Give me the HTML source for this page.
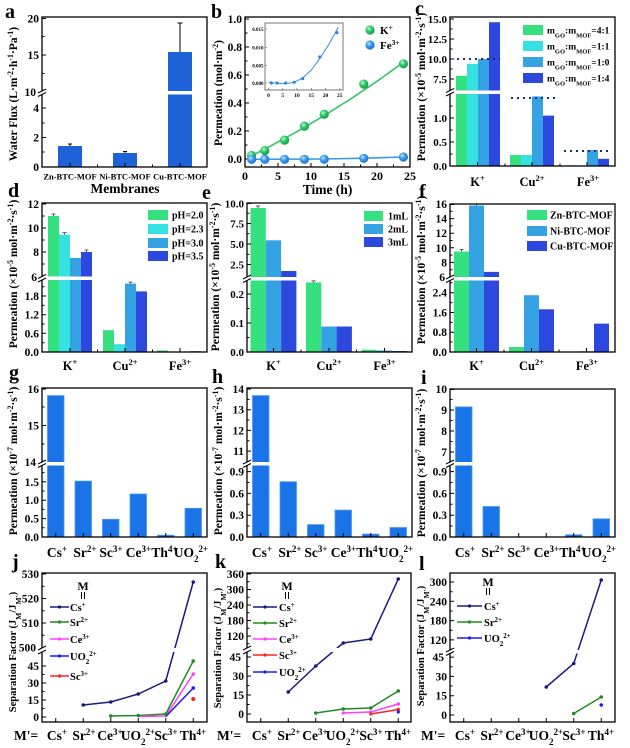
<!DOCTYPE html>
<html><head><meta charset="utf-8"><style>
html,body{margin:0;padding:0;background:#fff;}
svg{display:block;}
text{font-family:"Liberation Serif",serif;font-weight:bold;fill:#000;}
.fr{fill:none;stroke:#000;stroke-width:1.3;}
.tk{stroke:#000;stroke-width:1;fill:none;}
.yl{font-size:11.5px;text-anchor:end;}
.xl{font-size:12.5px;text-anchor:middle;}
.xc{font-size:13.5px;text-anchor:middle;}
.pl{font-size:20px;}
.lg{font-size:10px;}
.ax{font-size:11px;text-anchor:middle;}
</style></head><body>
<svg width="630" height="748" viewBox="0 0 630 748" xmlns="http://www.w3.org/2000/svg">
<defs>
<radialGradient id="gg" cx="0.38" cy="0.35" r="0.65"><stop offset="0" stop-color="#c4f7d6"/><stop offset="0.45" stop-color="#30cf6b"/><stop offset="1" stop-color="#1a9a48"/></radialGradient>
<radialGradient id="gb" cx="0.38" cy="0.35" r="0.65"><stop offset="0" stop-color="#c8e6ff"/><stop offset="0.45" stop-color="#3d9ef0"/><stop offset="1" stop-color="#1d72cc"/></radialGradient>
</defs>

<!-- ================= a ================= -->
<text class="pl" x="5" y="18">a</text>
<g fill="#1e62d8">
<rect x="58" y="146" width="24" height="21"/>
<rect x="113" y="153" width="24" height="14"/>
<rect x="168" y="52" width="24" height="115"/>
</g>
<path class="tk" d="M70 146V144M68 144H72M125 153V151.5M123 151.5H127M180 52V23M177.5 23H182.5" stroke="#1e62d8"/>
<rect class="fr" x="42" y="17" width="165" height="150"/>
<rect x="41" y="91" width="165" height="3.5" fill="#fff"/>
<path class="tk" d="M38 93L46 89M38 96.5L46 92.5"/>
<path class="tk" d="M42 18.5h4M42 55h4M42 36.5h2.5M42 73.5h2.5M42 108h4M42 137.5h4M42 123h2.5M42 152h2.5M70 167v-4M125 167v-4M180 167v-4M97.5 167v-2.5M152.5 167v-2.5"/>
<text class="yl" x="39" y="22.5">20</text>
<text class="yl" x="39" y="59">15</text>
<text class="yl" x="36" y="96">10</text>
<text class="yl" x="39" y="112">4</text>
<text class="yl" x="39" y="141.5">2</text>
<text class="yl" x="39" y="171">0</text>
<g font-size="8.5" text-anchor="middle">
<text x="70" y="179.5">Zn-BTC-MOF</text>
<text x="125" y="179.5">Ni-BTC-MOF</text>
<text x="180" y="179.5">Cu-BTC-MOF</text>
</g>
<text x="125" y="193" font-size="13.5" text-anchor="middle">Membranes</text>
<text transform="translate(17,94) rotate(-90)" font-size="11.5" text-anchor="middle">Water Flux (L·m<tspan font-size="8" baseline-shift="super">-2</tspan>·h<tspan font-size="8" baseline-shift="super">-1</tspan>·Pa<tspan font-size="8" baseline-shift="super">-1</tspan>)</text>

<!-- ================= b ================= -->
<text class="pl" x="211" y="18">b</text>
<rect class="fr" x="245" y="17" width="165" height="150"/>
<path class="tk" d="M245 19h4M245 47h4M245 75h4M245 103h4M245 131h4M245 159h4M245 33h2.5M245 61h2.5M245 89h2.5M245 117h2.5M245 145h2.5M278 167v-4M311 167v-4M344 167v-4M377 167v-4M261.5 167v-2.5M294.5 167v-2.5M327.5 167v-2.5M360.5 167v-2.5M393.5 167v-2.5"/>
<text class="yl" x="242" y="23">1.0</text>
<text class="yl" x="242" y="51">0.8</text>
<text class="yl" x="242" y="79">0.6</text>
<text class="yl" x="242" y="107">0.4</text>
<text class="yl" x="242" y="135">0.2</text>
<text class="yl" x="242" y="163">0.0</text>
<g font-size="12" text-anchor="middle">
<text x="245" y="180">0</text><text x="278" y="180">5</text><text x="311" y="180">10</text><text x="344" y="180">15</text><text x="377" y="180">20</text><text x="410" y="180">25</text>
</g>
<text x="327.5" y="194" font-size="13.5" text-anchor="middle">Time (h)</text>
<text transform="translate(222,93) rotate(-90)" font-size="11.5" text-anchor="middle">Permeation (mol·m<tspan font-size="8" baseline-shift="super">-2</tspan>)</text>
<polyline points="251.6,155.8 271.4,145.6 297.8,131.2 324.2,115.6 350.6,99 377,81.3 403.4,62.4" fill="none" stroke="#2fc46a" stroke-width="1.6"/>
<polyline points="251.6,159.3 324,159 364,158.2 403.4,157" fill="none" stroke="#3a9ae8" stroke-width="1.6"/>
<g fill="url(#gg)">
<circle cx="251.6" cy="155.5" r="4.6"/><circle cx="264.8" cy="150.6" r="4.6"/><circle cx="284.6" cy="140.1" r="4.6"/><circle cx="304.4" cy="126.1" r="4.6"/><circle cx="324.2" cy="114.2" r="4.6"/><circle cx="363.8" cy="84.1" r="4.6"/><circle cx="403.4" cy="63.8" r="4.6"/>
</g>
<g fill="url(#gb)">
<circle cx="251.6" cy="159.3" r="4.6"/><circle cx="264.8" cy="159.3" r="4.6"/><circle cx="284.6" cy="159.3" r="4.6"/><circle cx="304.4" cy="159.3" r="4.6"/><circle cx="324.2" cy="159.3" r="4.6"/><circle cx="363.8" cy="158.3" r="4.6"/><circle cx="403.4" cy="157" r="4.6"/>
</g>
<!-- inset -->
<rect x="265" y="23" width="78" height="67" fill="#fff" stroke="#555" stroke-width="0.8"/>
<path d="M265 29h2M265 47.5h2M265 65.5h2M265 83h2M268.5 90v-2M282.8 90v-2M297 90v-2M311.3 90v-2M325.5 90v-2M339.8 90v-2" stroke="#555" stroke-width="0.6"/>
<g font-size="5" text-anchor="end">
<text x="263.5" y="31">0.015</text><text x="263.5" y="49.5">0.010</text><text x="263.5" y="67.5">0.005</text><text x="263.5" y="85">0.000</text>
</g>
<g font-size="5.5" text-anchor="middle" font-weight="normal">
<text x="268.5" y="97">0</text><text x="282.8" y="97">5</text><text x="297" y="97">10</text><text x="311.3" y="97">15</text><text x="325.5" y="97">20</text><text x="339.8" y="97">25</text>
</g>
<polyline points="268.5,82.3 277,83.4 285.6,83.7 294.2,82.3 302.7,78 311.3,70 319.8,58.5 328.4,45.2 336.9,29.7 338.3,27.2" fill="none" stroke="#3a8ee0" stroke-width="1"/>
<g fill="#2f86dc">
<circle cx="271.4" cy="83" r="1.6"/><circle cx="277" cy="83" r="1.6"/><circle cx="285.6" cy="83" r="1.6"/><circle cx="294.2" cy="82.3" r="1.6"/><circle cx="302.7" cy="78.6" r="1.6"/><circle cx="319.8" cy="57" r="1.6"/><circle cx="336.9" cy="32.6" r="1.6"/>
</g>
<circle cx="370" cy="30" r="4.6" fill="url(#gg)"/>
<text x="380" y="34" font-size="11">K<tspan font-size="7.5" baseline-shift="super">+</tspan></text>
<circle cx="370" cy="45" r="4.6" fill="url(#gb)"/>
<text x="380" y="49" font-size="11">Fe<tspan font-size="7.5" baseline-shift="super">3+</tspan></text>

<!-- ================= c ================= -->
<text class="pl" x="415" y="15">c</text>
<rect x="456" y="75.8" width="11" height="90.2" fill="#35e07e"/>
<rect x="467" y="63.8" width="11" height="102.2" fill="#35e2e2"/>
<rect x="478" y="59" width="11" height="107" fill="#35a2e4"/>
<rect x="489" y="22.2" width="11" height="143.8" fill="#2c48de"/>
<rect x="510" y="155" width="11" height="11" fill="#35e07e"/>
<rect x="521" y="155" width="11" height="11" fill="#35e2e2"/>
<rect x="532" y="96.4" width="11" height="69.6" fill="#35a2e4"/>
<rect x="543" y="115.6" width="11" height="50.4" fill="#2c48de"/>
<rect x="565" y="165.3" width="11" height="0.7" fill="#35e07e"/>
<rect x="587" y="150" width="11" height="16" fill="#35a2e4"/>
<rect x="598" y="158.8" width="11" height="7.2" fill="#2c48de"/>
<rect class="fr" x="450" y="17" width="165" height="149"/>
<rect x="449" y="90.5" width="165" height="3.5" fill="#fff"/>
<path class="tk" d="M446 92.5L454 88.5M446 96L454 92"/>
<path d="M457 59H500M511 98H557M564 151H610" stroke="#1a2a7a" stroke-width="2" stroke-dasharray="2 4"/>
<path class="tk" d="M450 19h4M450 39h4M450 59h4M450 79h4M450 29h2.5M450 49h2.5M450 69h2.5M450 118h4M450 142h4M450 106h2.5M450 130h2.5M450 154h2.5M477.5 166v-4M532 166v-4M587 166v-4M505 166v-2.5M560 166v-2.5"/>
<g font-size="11" text-anchor="end">
<text x="447" y="23">15.0</text><text x="447" y="43">12.5</text><text x="447" y="63">10.0</text><text x="447" y="83">7.5</text>
<text x="447" y="122">1.0</text><text x="447" y="146">0.5</text><text x="447" y="170">0.0</text>
</g>
<g font-size="9.5">
<rect x="523" y="25" width="20" height="10" fill="#35e07e"/>
<rect x="523" y="41" width="20" height="10" fill="#35e2e2"/>
<rect x="523" y="57" width="20" height="10" fill="#35a2e4"/>
<rect x="523" y="73" width="20" height="10" fill="#2c48de"/>
<text x="547" y="33.5">m<tspan font-size="6.5" baseline-shift="sub">GO</tspan>:m<tspan font-size="6.5" baseline-shift="sub">MOF</tspan>=4:1</text>
<text x="547" y="49.5">m<tspan font-size="6.5" baseline-shift="sub">GO</tspan>:m<tspan font-size="6.5" baseline-shift="sub">MOF</tspan>=1:1</text>
<text x="547" y="65.5">m<tspan font-size="6.5" baseline-shift="sub">GO</tspan>:m<tspan font-size="6.5" baseline-shift="sub">MOF</tspan>=1:0</text>
<text x="547" y="81.5">m<tspan font-size="6.5" baseline-shift="sub">GO</tspan>:m<tspan font-size="6.5" baseline-shift="sub">MOF</tspan>=1:4</text>
</g>
<text class="xl" x="477.5" y="186">K<tspan font-size="8.5" baseline-shift="super">+</tspan></text>
<text class="xl" x="532" y="186">Cu<tspan font-size="8.5" baseline-shift="super">2+</tspan></text>
<text class="xl" x="588" y="186">Fe<tspan font-size="8.5" baseline-shift="super">3+</tspan></text>
<text transform="translate(425,87) rotate(-90)" font-size="11.5" text-anchor="middle">Permeation (×10<tspan font-size="8" baseline-shift="super">-5</tspan> mol·m<tspan font-size="8" baseline-shift="super">-2</tspan>·s<tspan font-size="8" baseline-shift="super">-1</tspan>)</text>

<!-- ================= d ================= -->
<text class="pl" x="8" y="197">d</text>
<rect x="48" y="216" width="11" height="136" fill="#35e07e"/>
<rect x="59" y="234.6" width="11" height="117.4" fill="#35e2e2"/>
<rect x="70" y="258" width="11" height="94" fill="#35a2e4"/>
<rect x="81" y="252" width="11" height="100" fill="#2c48de"/>
<rect x="103" y="330.2" width="11" height="21.8" fill="#35e07e"/>
<rect x="114" y="344.2" width="11" height="7.8" fill="#35e2e2"/>
<rect x="125" y="283.6" width="11" height="68.4" fill="#35a2e4"/>
<rect x="136" y="291.4" width="11" height="60.6" fill="#2c48de"/>
<rect x="157" y="350.4" width="11" height="1.6" fill="#35e07e"/>
<rect x="190" y="351.2" width="11" height="0.8" fill="#2c48de"/>
<path d="M53.5 216v-2M51.5 214h4M64.5 234.6v-2M62.5 232.6h4M86.5 252v-2M84.5 250h4M130.5 283.6v-1.5M128.5 282.1h4" stroke="#333" stroke-width="0.8"/>
<rect class="fr" x="42" y="203" width="165" height="149"/>
<rect x="41" y="276.5" width="165" height="3.5" fill="#fff"/>
<path class="tk" d="M38 278.5L46 274.5M38 282L46 278"/>
<path class="tk" d="M42 204h4M42 228h4M42 252h4M42 216h2.5M42 240h2.5M42 264h2.5M42 296h4M42 314.7h4M42 333.3h4M42 286.7h2.5M42 305.4h2.5M42 324h2.5M42 342.7h2.5M70 352v-4M125 352v-4M180 352v-4M97.5 352v-2.5M152.5 352v-2.5"/>
<text class="yl" x="39" y="208">12</text>
<text class="yl" x="39" y="232">10</text>
<text class="yl" x="39" y="256">8</text>
<text class="yl" x="37" y="281">6</text>
<text class="yl" x="39" y="300">1.8</text>
<text class="yl" x="39" y="318.7">1.2</text>
<text class="yl" x="39" y="337.3">0.6</text>
<text class="yl" x="39" y="356">0.0</text>
<g class="lg">
<rect x="148" y="210" width="20" height="10" fill="#35e07e"/>
<rect x="148" y="224" width="20" height="10" fill="#35e2e2"/>
<rect x="148" y="238" width="20" height="10" fill="#35a2e4"/>
<rect x="148" y="251" width="20" height="10" fill="#2c48de"/>
<text x="172" y="218.5">pH=2.0</text>
<text x="172" y="232.5">pH=2.3</text>
<text x="172" y="246.5">pH=3.0</text>
<text x="172" y="259.5">pH=3.5</text>
</g>
<text class="xl" x="70" y="370">K<tspan font-size="8.5" baseline-shift="super">+</tspan></text>
<text class="xl" x="125" y="370">Cu<tspan font-size="8.5" baseline-shift="super">2+</tspan></text>
<text class="xl" x="180" y="370">Fe<tspan font-size="8.5" baseline-shift="super">3+</tspan></text>
<text transform="translate(17,274) rotate(-90)" font-size="11.5" text-anchor="middle">Permeation (×10<tspan font-size="8" baseline-shift="super">-5</tspan> mol·m<tspan font-size="8" baseline-shift="super">-2</tspan>·s<tspan font-size="8" baseline-shift="super">-1</tspan>)</text>

<!-- ================= e ================= -->
<text class="pl" x="202" y="199">e</text>
<rect x="250.5" y="208" width="15.3" height="144" fill="#35e07e"/>
<rect x="265.8" y="240.3" width="15.3" height="111.7" fill="#35a2e4"/>
<rect x="281.1" y="271" width="15.3" height="81" fill="#2c48de"/>
<rect x="306" y="282.4" width="15.3" height="69.6" fill="#35e07e"/>
<rect x="321.3" y="326.5" width="15.3" height="25.5" fill="#35a2e4"/>
<rect x="336.6" y="326.5" width="15.3" height="25.5" fill="#2c48de"/>
<rect x="361.5" y="349.7" width="15.3" height="2.3" fill="#35e07e"/>
<rect x="376.8" y="350.5" width="15.3" height="1.5" fill="#35a2e4"/>
<rect x="392.1" y="351" width="15.3" height="1" fill="#2c48de"/>
<path d="M258 208v-2M256 206h4M313.6 282.4v-1.5M311.6 280.9h4" stroke="#333" stroke-width="0.8"/>
<rect class="fr" x="247" y="203" width="165" height="149"/>
<rect x="246" y="277" width="165" height="3.5" fill="#fff"/>
<path class="tk" d="M243 279L251 275M243 282.5L251 278.5"/>
<path class="tk" d="M247 203.5h4M247 223.5h4M247 244h4M247 264.5h4M247 213.3h2.5M247 233.8h2.5M247 254.3h2.5M247 294h4M247 323h4M247 308.5h2.5M247 337.5h2.5M273.5 352v-4M329 352v-4M384.5 352v-4M301 352v-2.5M356.5 352v-2.5"/>
<g font-size="11" text-anchor="end">
<text x="244" y="207.5">10.0</text>
<text x="244" y="227.5">7.5</text>
<text x="244" y="248">5.0</text>
<text x="244" y="268.5">2.5</text>
<text x="244" y="298">0.2</text>
<text x="244" y="327">0.1</text>
<text x="244" y="356">0.0</text>
</g>
<g class="lg">
<rect x="364" y="211" width="19" height="10" fill="#35e07e"/>
<rect x="364" y="224" width="19" height="10" fill="#35a2e4"/>
<rect x="364" y="237" width="19" height="10" fill="#2c48de"/>
<text x="388" y="219.5">1mL</text>
<text x="388" y="232.5">2mL</text>
<text x="388" y="245.5">3mL</text>
</g>
<text class="xl" x="273.5" y="370">K<tspan font-size="8.5" baseline-shift="super">+</tspan></text>
<text class="xl" x="329" y="370">Cu<tspan font-size="8.5" baseline-shift="super">2+</tspan></text>
<text class="xl" x="384.5" y="370">Fe<tspan font-size="8.5" baseline-shift="super">3+</tspan></text>
<text transform="translate(219,277) rotate(-90)" font-size="11.5" text-anchor="middle">Permeation (×10<tspan font-size="8" baseline-shift="super">-5</tspan> mol·m<tspan font-size="8" baseline-shift="super">-2</tspan>·s<tspan font-size="8" baseline-shift="super">-1</tspan>)</text>

<!-- ================= f ================= -->
<text class="pl" x="419" y="198">f</text>
<rect x="454" y="251.5" width="15" height="100.5" fill="#35e07e"/>
<rect x="469" y="205.5" width="15" height="146.5" fill="#35a2e4"/>
<rect x="484" y="271.9" width="15" height="80.1" fill="#2c48de"/>
<rect x="509" y="347" width="15" height="5" fill="#35e07e"/>
<rect x="524" y="295.2" width="15" height="56.8" fill="#35a2e4"/>
<rect x="539" y="309.3" width="15" height="42.7" fill="#2c48de"/>
<rect x="579" y="351.3" width="15" height="0.7" fill="#35a2e4"/>
<rect x="594" y="323.6" width="15" height="28.4" fill="#2c48de"/>
<path d="M461.5 251.5v-2M459.5 249.5h4M476.5 205.5v-1.5M474.5 204h4" stroke="#333" stroke-width="0.8"/>
<rect class="fr" x="450" y="204" width="165" height="148"/>
<rect x="449" y="277" width="165" height="3.5" fill="#fff"/>
<path class="tk" d="M446 279L454 275M446 282.5L454 278.5"/>
<path class="tk" d="M450 204.5h4M450 218.6h4M450 233.2h4M450 247.8h4M450 262.4h4M450 211.3h2.5M450 225.9h2.5M450 240.5h2.5M450 255.1h2.5M450 269.7h2.5M450 292.7h4M450 312.5h4M450 332.2h4M450 282.8h2.5M450 302.6h2.5M450 322.4h2.5M450 342h2.5M476.5 352v-4M531.5 352v-4M586.5 352v-4M504 352v-2.5M559 352v-2.5"/>
<text class="yl" x="447" y="208">16</text>
<text class="yl" x="447" y="222.6">14</text>
<text class="yl" x="447" y="237.2">12</text>
<text class="yl" x="447" y="251.8">10</text>
<text class="yl" x="447" y="266.4">8</text>
<text class="yl" x="445" y="281">6</text>
<text class="yl" x="447" y="296.7">2.4</text>
<text class="yl" x="447" y="316.5">1.6</text>
<text class="yl" x="447" y="336.2">0.8</text>
<text class="yl" x="447" y="356">0.0</text>
<g class="lg">
<rect x="527" y="210" width="20" height="10" fill="#35e07e"/>
<rect x="527" y="226" width="20" height="10" fill="#35a2e4"/>
<rect x="527" y="241" width="20" height="10" fill="#2c48de"/>
<text x="550" y="218.5">Zn-BTC-MOF</text>
<text x="550" y="234.5">Ni-BTC-MOF</text>
<text x="550" y="249.5">Cu-BTC-MOF</text>
</g>
<text class="xl" x="476.5" y="370">K<tspan font-size="8.5" baseline-shift="super">+</tspan></text>
<text class="xl" x="531.5" y="370">Cu<tspan font-size="8.5" baseline-shift="super">2+</tspan></text>
<text class="xl" x="587" y="370">Fe<tspan font-size="8.5" baseline-shift="super">3+</tspan></text>
<text transform="translate(425,270) rotate(-90)" font-size="11.5" text-anchor="middle">Permeation (×10<tspan font-size="8" baseline-shift="super">-5</tspan> mol·m<tspan font-size="8" baseline-shift="super">-2</tspan>·s<tspan font-size="8" baseline-shift="super">-1</tspan>)</text>

<!-- ================= g ================= -->
<text class="pl" x="9" y="379">g</text>
<g fill="#1a74e8" stroke="#4c98f2" stroke-width="0.8">
<rect x="47.5" y="395.6" width="16.5" height="141.4"/>
<rect x="75" y="481.1" width="16.5" height="55.9"/>
<rect x="102.5" y="519.3" width="16.5" height="17.7"/>
<rect x="130" y="494" width="16.5" height="43"/>
<rect x="157.5" y="535.2" width="16.5" height="1.8"/>
<rect x="185" y="508.3" width="16.5" height="28.7"/>
</g>
<rect class="fr" x="42" y="388" width="165" height="149"/>
<rect x="41" y="462" width="165" height="3.5" fill="#fff"/>
<path class="tk" d="M38 464L46 460M38 467.5L46 463.5"/>
<path class="tk" d="M42 389h4M42 425.5h4M42 407h2.5M42 444h2.5M42 481.8h4M42 500.2h4M42 518.6h4M42 472.6h2.5M42 491h2.5M42 509.4h2.5M42 527.8h2.5M55.75 537v-4M83.25 537v-4M110.75 537v-4M138.25 537v-4M165.75 537v-4M193.25 537v-4"/>
<text class="yl" x="39" y="393">16</text>
<text class="yl" x="39" y="429.5">15</text>
<text class="yl" x="36" y="466">14</text>
<text class="yl" x="39" y="485.8">1.5</text>
<text class="yl" x="39" y="504.2">1.0</text>
<text class="yl" x="39" y="522.6">0.5</text>
<text class="yl" x="39" y="541">0.0</text>
<text class="xc" x="57" y="557">Cs<tspan font-size="9" baseline-shift="super">+</tspan></text>
<text class="xc" x="85" y="557">Sr<tspan font-size="9" baseline-shift="super">2+</tspan></text>
<text class="xc" x="111" y="557">Sc<tspan font-size="9" baseline-shift="super">3+</tspan></text>
<text class="xc" x="138.5" y="557">Ce<tspan font-size="9" baseline-shift="super">3+</tspan></text>
<text class="xc" x="164.5" y="557">Th<tspan font-size="9" baseline-shift="super">4+</tspan></text>
<text class="xc" x="191" y="557">UO<tspan font-size="9" baseline-shift="sub">2</tspan><tspan font-size="9" baseline-shift="super">2+</tspan></text>
<text transform="translate(17,461) rotate(-90)" font-size="11.5" text-anchor="middle">Permeation (×10<tspan font-size="8" baseline-shift="super">-7</tspan> mol·m<tspan font-size="8" baseline-shift="super">-2</tspan>·s<tspan font-size="8" baseline-shift="super">-1</tspan>)</text>

<!-- ================= h ================= -->
<text class="pl" x="212" y="383">h</text>
<g fill="#1a74e8" stroke="#4c98f2" stroke-width="0.8">
<rect x="252.5" y="395.6" width="16.5" height="141.4"/>
<rect x="280" y="481.7" width="16.5" height="55.3"/>
<rect x="307.5" y="524.6" width="16.5" height="12.4"/>
<rect x="335" y="510.1" width="16.5" height="26.9"/>
<rect x="362.5" y="534.1" width="16.5" height="2.9"/>
<rect x="390" y="527.5" width="16.5" height="9.5"/>
</g>
<rect class="fr" x="247" y="388" width="165" height="149"/>
<rect x="246" y="462" width="165" height="3.5" fill="#fff"/>
<path class="tk" d="M243 464L251 460M243 467.5L251 463.5"/>
<path class="tk" d="M247 389h4M247 409.7h4M247 430.4h4M247 451.1h4M247 399.4h2.5M247 420h2.5M247 440.7h2.5M247 471.6h4M247 493.4h4M247 515.2h4M247 482.5h2.5M247 504.3h2.5M247 526h2.5M260.75 537v-4M288.25 537v-4M315.75 537v-4M343.25 537v-4M370.75 537v-4M398.25 537v-4"/>
<text class="yl" x="244" y="393">14</text>
<text class="yl" x="244" y="413.7">13</text>
<text class="yl" x="244" y="434.4">12</text>
<text class="yl" x="244" y="455.1">11</text>
<text class="yl" x="244" y="475.6">0.9</text>
<text class="yl" x="244" y="497.4">0.6</text>
<text class="yl" x="244" y="519.2">0.3</text>
<text class="yl" x="244" y="541">0.0</text>
<text class="xc" x="262" y="557">Cs<tspan font-size="9" baseline-shift="super">+</tspan></text>
<text class="xc" x="290" y="557">Sr<tspan font-size="9" baseline-shift="super">2+</tspan></text>
<text class="xc" x="316" y="557">Sc<tspan font-size="9" baseline-shift="super">3+</tspan></text>
<text class="xc" x="343.5" y="557">Ce<tspan font-size="9" baseline-shift="super">3+</tspan></text>
<text class="xc" x="369.5" y="557">Th<tspan font-size="9" baseline-shift="super">4+</tspan></text>
<text class="xc" x="396" y="557">UO<tspan font-size="9" baseline-shift="sub">2</tspan><tspan font-size="9" baseline-shift="super">2+</tspan></text>
<text transform="translate(222,461) rotate(-90)" font-size="11.5" text-anchor="middle">Permeation (×10<tspan font-size="8" baseline-shift="super">-7</tspan> mol·m<tspan font-size="8" baseline-shift="super">-2</tspan>·s<tspan font-size="8" baseline-shift="super">-1</tspan>)</text>

<!-- ================= i ================= -->
<text class="pl" x="421" y="384">i</text>
<g fill="#1a74e8" stroke="#4c98f2" stroke-width="0.8">
<rect x="455.5" y="406.9" width="16.5" height="130.1"/>
<rect x="483" y="506.5" width="16.5" height="30.5"/>
<rect x="565.5" y="534.8" width="16.5" height="2.2"/>
<rect x="593" y="518.8" width="16.5" height="18.2"/>
</g>
<rect class="fr" x="450" y="389" width="165" height="148"/>
<rect x="449" y="462" width="165" height="3.5" fill="#fff"/>
<path class="tk" d="M446 464L454 460M446 467.5L454 463.5"/>
<path class="tk" d="M450 389.5h4M450 410h4M450 431h4M450 452h4M450 399.5h2.5M450 420.5h2.5M450 441.5h2.5M450 471.6h4M450 493.4h4M450 515.2h4M450 482.5h2.5M450 504.3h2.5M450 526h2.5M463.75 537v-4M491.25 537v-4M518.75 537v-4M546.25 537v-4M573.75 537v-4M601.25 537v-4"/>
<text class="yl" x="447" y="393">10</text>
<text class="yl" x="447" y="414">9</text>
<text class="yl" x="447" y="435">8</text>
<text class="yl" x="447" y="456">7</text>
<text class="yl" x="447" y="475.6">0.9</text>
<text class="yl" x="447" y="497.4">0.6</text>
<text class="yl" x="447" y="519.2">0.3</text>
<text class="yl" x="447" y="541">0.0</text>
<text class="xc" x="465" y="557">Cs<tspan font-size="9" baseline-shift="super">+</tspan></text>
<text class="xc" x="493" y="557">Sr<tspan font-size="9" baseline-shift="super">2+</tspan></text>
<text class="xc" x="519" y="557">Sc<tspan font-size="9" baseline-shift="super">3+</tspan></text>
<text class="xc" x="546.5" y="557">Ce<tspan font-size="9" baseline-shift="super">3+</tspan></text>
<text class="xc" x="572.5" y="557">Th<tspan font-size="9" baseline-shift="super">4+</tspan></text>
<text class="xc" x="599" y="557">UO<tspan font-size="9" baseline-shift="sub">2</tspan><tspan font-size="9" baseline-shift="super">2+</tspan></text>
<text transform="translate(425,463) rotate(-90)" font-size="11.5" text-anchor="middle">Permeation (×10<tspan font-size="8" baseline-shift="super">-7</tspan> mol·m<tspan font-size="8" baseline-shift="super">-2</tspan>·s<tspan font-size="8" baseline-shift="super">-1</tspan>)</text>

<!-- ================= j ================= -->
<text class="pl" x="12" y="568">j</text>
<rect class="fr" x="42" y="573" width="165" height="149"/>
<g fill="none" stroke-width="1.5">
<polyline points="83.25,705 110.75,702 138.25,694 165.75,681 193.25,582" stroke="#1a1a7e"/>
<polyline points="110.75,716 138.25,715.5 165.75,714 193.25,661" stroke="#1e8c1e"/>
<polyline points="138.25,716.5 165.75,716 193.25,674" stroke="#ff40ff"/>
<polyline points="165.75,716.6 193.25,688" stroke="#1a1aff"/>
</g>
<g fill="#1a1a7e"><circle cx="83.25" cy="705" r="1.8"/><circle cx="110.75" cy="702" r="1.8"/><circle cx="138.25" cy="694" r="1.8"/><circle cx="165.75" cy="681" r="1.8"/><circle cx="193.25" cy="582" r="1.8"/></g>
<g fill="#1e8c1e"><circle cx="110.75" cy="716" r="1.8"/><circle cx="138.25" cy="715.5" r="1.8"/><circle cx="165.75" cy="714" r="1.8"/><circle cx="193.25" cy="661" r="1.8"/></g>
<g fill="#ff40ff"><circle cx="193.25" cy="674" r="1.8"/></g>
<g fill="#1a1aff"><circle cx="193.25" cy="688" r="1.8"/></g>
<circle cx="193.25" cy="699" r="2" fill="#ff2020"/>
<rect x="41" y="648" width="165" height="4" fill="#fff"/>
<path class="tk" d="M38 650L46 646M38 654L46 650"/>
<path class="tk" d="M42 574h4M42 598.5h4M42 623h4M42 586.3h2.5M42 610.8h2.5M42 635.3h2.5M42 666h4M42 683h4M42 700h4M42 717h4M42 674.5h2.5M42 691.5h2.5M42 708.5h2.5M55.75 722v-4M83.25 722v-4M110.75 722v-4M138.25 722v-4M165.75 722v-4M193.25 722v-4"/>
<text class="yl" x="39" y="578">530</text>
<text class="yl" x="39" y="602.5">520</text>
<text class="yl" x="39" y="627">510</text>
<text class="yl" x="36" y="651.5">500</text>
<text class="yl" x="39" y="670">45</text>
<text class="yl" x="39" y="687">30</text>
<text class="yl" x="39" y="704">15</text>
<text class="yl" x="39" y="721">0</text>
<text x="83" y="590" font-size="12" text-anchor="middle">M</text>
<path d="M81.5 592v7M84.5 592v7" stroke="#000" stroke-width="1"/>
<g stroke-width="1.5">
<path d="M50 607H69" stroke="#1a1a7e"/><path d="M50 622H69" stroke="#1e8c1e"/><path d="M50 639H69" stroke="#ff40ff"/><path d="M50 656H69" stroke="#1a1aff"/><path d="M50 676H69" stroke="#ff2020"/>
</g>
<circle cx="59.5" cy="607" r="1.6" fill="#1a1a7e"/><circle cx="59.5" cy="622" r="1.6" fill="#1e8c1e"/><circle cx="59.5" cy="639" r="1.6" fill="#ff40ff"/><circle cx="59.5" cy="656" r="1.6" fill="#1a1aff"/><circle cx="59.5" cy="676" r="1.6" fill="#ff2020"/>
<g font-size="10.5">
<text x="70" y="611">Cs<tspan font-size="7" baseline-shift="super">+</tspan></text>
<text x="70" y="626">Sr<tspan font-size="7" baseline-shift="super">2+</tspan></text>
<text x="70" y="643">Ce<tspan font-size="7" baseline-shift="super">3+</tspan></text>
<text x="70" y="660">UO<tspan font-size="7" baseline-shift="sub">2</tspan><tspan font-size="7" baseline-shift="super">2+</tspan></text>
<text x="70" y="680">Sc<tspan font-size="7" baseline-shift="super">3+</tspan></text>
</g>
<text x="14" y="740" font-size="13.5">M'=</text>
<text class="xc" x="57" y="740">Cs<tspan font-size="9" baseline-shift="super">+</tspan></text>
<text class="xc" x="84" y="740">Sr<tspan font-size="9" baseline-shift="super">2+</tspan></text>
<text class="xc" x="110" y="740">Ce<tspan font-size="9" baseline-shift="super">3+</tspan></text>
<text class="xc" x="138" y="740">UO<tspan font-size="9" baseline-shift="sub">2</tspan><tspan font-size="9" baseline-shift="super">2+</tspan></text>
<text class="xc" x="166" y="740">Sc<tspan font-size="9" baseline-shift="super">3+</tspan></text>
<text class="xc" x="193" y="740">Th<tspan font-size="9" baseline-shift="super">4+</tspan></text>
<text transform="translate(16,652) rotate(-90)" font-size="10.5" text-anchor="middle">Separation Factor (J<tspan font-size="7.5" baseline-shift="sub">M</tspan>/J<tspan font-size="7.5" baseline-shift="sub">M'</tspan>)</text>

<!-- ================= k ================= -->
<text class="pl" x="215" y="568">k</text>
<rect class="fr" x="247" y="573" width="164" height="149"/>
<g fill="none" stroke-width="1.5">
<polyline points="288.25,692 315.75,666 343.25,643 370.75,639 398.25,579" stroke="#1a1a7e"/>
<polyline points="315.75,713 343.25,709 370.75,708 398.25,691" stroke="#1e8c1e"/>
<polyline points="343.25,713 370.75,712 398.25,704" stroke="#ff40ff"/>
<polyline points="370.75,714 398.25,709.5" stroke="#ff2020"/>
</g>
<g fill="#1a1a7e"><circle cx="288.25" cy="692" r="1.8"/><circle cx="315.75" cy="666" r="1.8"/><circle cx="343.25" cy="643" r="1.8"/><circle cx="370.75" cy="639" r="1.8"/><circle cx="398.25" cy="579" r="1.8"/></g>
<g fill="#1e8c1e"><circle cx="315.75" cy="713" r="1.8"/><circle cx="343.25" cy="709" r="1.8"/><circle cx="370.75" cy="708" r="1.8"/><circle cx="398.25" cy="691" r="1.8"/></g>
<g fill="#ff40ff"><circle cx="343.25" cy="713" r="1.6"/><circle cx="370.75" cy="712" r="1.6"/><circle cx="398.25" cy="704" r="1.8"/></g>
<g fill="#ff2020"><circle cx="370.75" cy="714" r="1.6"/><circle cx="398.25" cy="709.5" r="1.8"/></g>
<circle cx="398.25" cy="712" r="1.6" fill="#1a1aff"/>
<rect x="246" y="648" width="164" height="4" fill="#fff"/>
<path class="tk" d="M243 650L251 646M243 654L251 650"/>
<path class="tk" d="M247 574h4M247 589.5h4M247 605h4M247 620.5h4M247 636h4M247 581.7h2.5M247 597.2h2.5M247 612.7h2.5M247 628.2h2.5M247 643.7h2.5M247 657h4M247 676h4M247 695h4M247 714h4M247 666.5h2.5M247 685.5h2.5M247 704.5h2.5M260.75 722v-4M288.25 722v-4M315.75 722v-4M343.25 722v-4M370.75 722v-4M398.25 722v-4"/>
<text class="yl" x="244" y="578">360</text>
<text class="yl" x="244" y="593.5">300</text>
<text class="yl" x="244" y="609">240</text>
<text class="yl" x="244" y="624.5">180</text>
<text class="yl" x="244" y="640">120</text>
<text class="yl" x="241" y="661">45</text>
<text class="yl" x="244" y="680">30</text>
<text class="yl" x="244" y="699">15</text>
<text class="yl" x="244" y="718">0</text>
<text x="287" y="590" font-size="12" text-anchor="middle">M</text>
<path d="M285.5 592v7M288.5 592v7" stroke="#000" stroke-width="1"/>
<g stroke-width="1.5">
<path d="M253 607H277" stroke="#1a1a7e"/><path d="M253 623H277" stroke="#1e8c1e"/><path d="M253 639H277" stroke="#ff40ff"/><path d="M253 655H277" stroke="#ff2020"/><path d="M253 672H277" stroke="#1a1aff"/>
</g>
<circle cx="265" cy="607" r="1.6" fill="#1a1a7e"/><circle cx="265" cy="623" r="1.6" fill="#1e8c1e"/><circle cx="265" cy="639" r="1.6" fill="#ff40ff"/><circle cx="265" cy="655" r="1.6" fill="#ff2020"/><circle cx="265" cy="672" r="1.6" fill="#1a1aff"/>
<g font-size="10.5">
<text x="279" y="611">Cs<tspan font-size="7" baseline-shift="super">+</tspan></text>
<text x="279" y="627">Sr<tspan font-size="7" baseline-shift="super">2+</tspan></text>
<text x="279" y="643">Ce<tspan font-size="7" baseline-shift="super">3+</tspan></text>
<text x="279" y="659">Sc<tspan font-size="7" baseline-shift="super">3+</tspan></text>
<text x="279" y="676">UO<tspan font-size="7" baseline-shift="sub">2</tspan><tspan font-size="7" baseline-shift="super">2+</tspan></text>
</g>
<text x="217" y="740" font-size="13.5">M'=</text>
<text class="xc" x="262" y="740">Cs<tspan font-size="9" baseline-shift="super">+</tspan></text>
<text class="xc" x="289" y="740">Sr<tspan font-size="9" baseline-shift="super">2+</tspan></text>
<text class="xc" x="315" y="740">Ce<tspan font-size="9" baseline-shift="super">3+</tspan></text>
<text class="xc" x="343" y="740">UO<tspan font-size="9" baseline-shift="sub">2</tspan><tspan font-size="9" baseline-shift="super">2+</tspan></text>
<text class="xc" x="371" y="740">Sc<tspan font-size="9" baseline-shift="super">3+</tspan></text>
<text class="xc" x="398" y="740">Th<tspan font-size="9" baseline-shift="super">4+</tspan></text>
<text transform="translate(221,648) rotate(-90)" font-size="10.5" text-anchor="middle">Separation Factor (J<tspan font-size="7.5" baseline-shift="sub">M</tspan>/J<tspan font-size="7.5" baseline-shift="sub">M'</tspan>)</text>

<!-- ================= l ================= -->
<text class="pl" x="419" y="570">l</text>
<rect class="fr" x="450" y="573" width="165" height="149"/>
<g fill="none" stroke-width="1.5">
<polyline points="546.25,687 573.75,663.5 601.25,580" stroke="#1a1a7e"/>
<polyline points="573.75,713.5 601.25,697" stroke="#1e8c1e"/>
</g>
<g fill="#1a1a7e"><circle cx="546.25" cy="687" r="1.8"/><circle cx="573.75" cy="663.5" r="1.8"/><circle cx="601.25" cy="580" r="1.8"/></g>
<g fill="#1e8c1e"><circle cx="573.75" cy="713.5" r="1.8"/><circle cx="601.25" cy="697" r="1.8"/></g>
<circle cx="601.25" cy="705" r="1.8" fill="#1a1aff"/>
<rect x="449" y="650" width="165" height="3.5" fill="#fff"/>
<path class="tk" d="M446 652L454 648M446 655.5L454 651.5"/>
<path class="tk" d="M450 582h4M450 601.3h4M450 620.6h4M450 639.9h4M450 591.7h2.5M450 611h2.5M450 630.3h2.5M450 657.1h4M450 676.4h4M450 695.7h4M450 715h4M450 666.8h2.5M450 686h2.5M450 705.4h2.5M463.75 722v-4M491.25 722v-4M518.75 722v-4M546.25 722v-4M573.75 722v-4M601.25 722v-4"/>
<text class="yl" x="447" y="586">300</text>
<text class="yl" x="447" y="605.3">240</text>
<text class="yl" x="447" y="624.6">180</text>
<text class="yl" x="447" y="643.9">120</text>
<text class="yl" x="444" y="661.1">45</text>
<text class="yl" x="447" y="680.4">30</text>
<text class="yl" x="447" y="699.7">15</text>
<text class="yl" x="447" y="719">0</text>
<text x="488" y="586" font-size="12" text-anchor="middle">M</text>
<path d="M486.5 588v7M489.5 588v7" stroke="#000" stroke-width="1"/>
<g stroke-width="1.5">
<path d="M457 606H482" stroke="#1a1a7e"/><path d="M457 622H482" stroke="#1e8c1e"/><path d="M457 638H482" stroke="#1a1aff"/>
</g>
<circle cx="469.5" cy="606" r="1.6" fill="#1a1a7e"/><circle cx="469.5" cy="622" r="1.6" fill="#1e8c1e"/><circle cx="469.5" cy="638" r="1.6" fill="#1a1aff"/>
<g font-size="10.5">
<text x="484" y="610">Cs<tspan font-size="7" baseline-shift="super">+</tspan></text>
<text x="484" y="626">Sr<tspan font-size="7" baseline-shift="super">2+</tspan></text>
<text x="484" y="642">UO<tspan font-size="7" baseline-shift="sub">2</tspan><tspan font-size="7" baseline-shift="super">2+</tspan></text>
</g>
<text x="421" y="740" font-size="13.5">M'=</text>
<text class="xc" x="465" y="740">Cs<tspan font-size="9" baseline-shift="super">+</tspan></text>
<text class="xc" x="492" y="740">Sr<tspan font-size="9" baseline-shift="super">2+</tspan></text>
<text class="xc" x="518" y="740">Ce<tspan font-size="9" baseline-shift="super">3+</tspan></text>
<text class="xc" x="546" y="740">UO<tspan font-size="9" baseline-shift="sub">2</tspan><tspan font-size="9" baseline-shift="super">2+</tspan></text>
<text class="xc" x="574" y="740">Sc<tspan font-size="9" baseline-shift="super">3+</tspan></text>
<text class="xc" x="601" y="740">Th<tspan font-size="9" baseline-shift="super">4+</tspan></text>
<text transform="translate(424,646) rotate(-90)" font-size="10.5" text-anchor="middle">Separation Factor (J<tspan font-size="7.5" baseline-shift="sub">M</tspan>/J<tspan font-size="7.5" baseline-shift="sub">M'</tspan>)</text>
</svg>
</body></html>
